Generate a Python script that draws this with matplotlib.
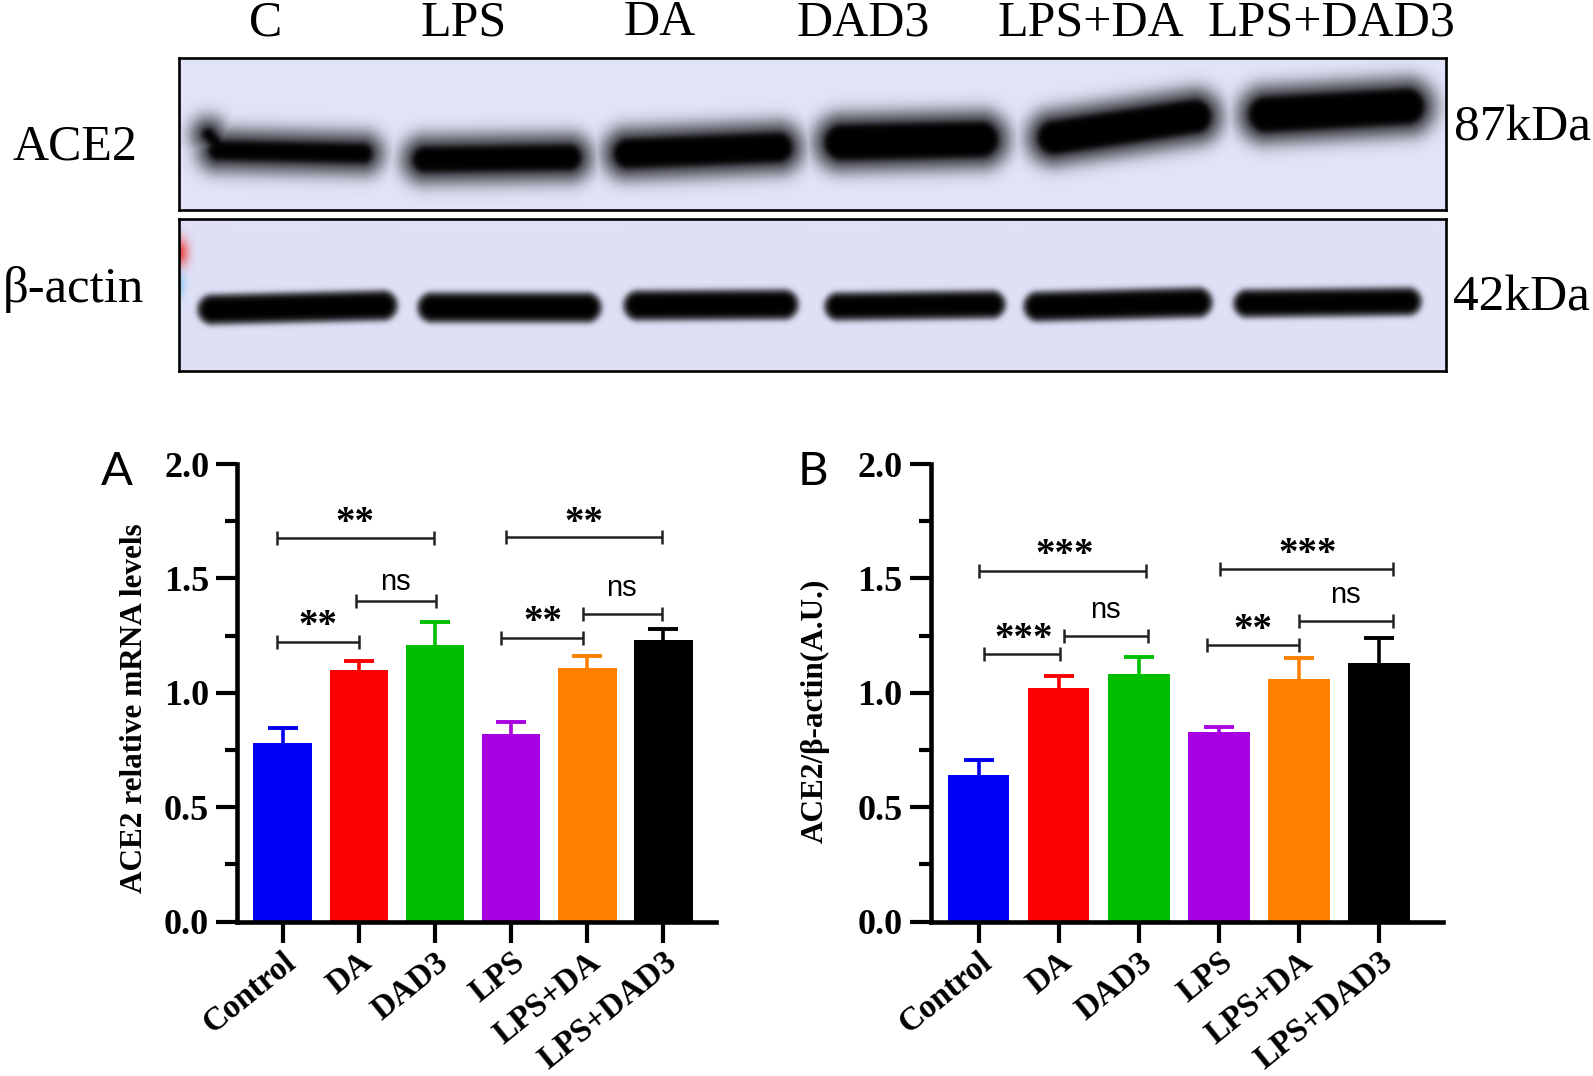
import numpy as np
import matplotlib
matplotlib.use('Agg')
import matplotlib.pyplot as plt

W, H = 1593, 1076
SERIF = 'Liberation Serif'

# bar chart data
groups = ['Control', 'DA', 'DAD3', 'LPS', 'LPS+DA', 'LPS+DAD3']
colors = ['#0000f5', '#fb0000', '#00bf00', '#a800e0', '#ff8000', '#000000']
mrna_mean = [0.78, 1.10, 1.21, 0.82, 1.11, 1.23]
mrna_err = [0.065, 0.04, 0.10, 0.05, 0.05, 0.05]
prot_mean = [0.64, 1.02, 1.08, 0.83, 1.06, 1.13]
prot_err = [0.065, 0.055, 0.075, 0.02, 0.09, 0.11]

# significance brackets: x start, x end, height, label x, label height, label
mrna_sig = [(-0.08, 1.99, 1.675, 0.95, 1.778, '**'),
            (-0.08, 1.00, 1.223, 0.46, 1.328, '**'),
            (0.96, 2.01, 1.40, 1.48, 1.495, 'ns'),
            (2.93, 4.98, 1.68, 3.96, 1.782, '**'),
            (2.87, 3.95, 1.24, 3.42, 1.347, '**'),
            (3.95, 4.98, 1.345, 4.45, 1.47, 'ns')]
prot_sig = [(0.00, 2.09, 1.534, 1.07, 1.642, '***'),
            (0.07, 1.015, 1.17, 0.56, 1.273, '***'),
            (1.07, 2.11, 1.246, 1.59, 1.374, 'ns'),
            (3.01, 5.17, 1.539, 4.11, 1.645, '***'),
            (2.85, 4.00, 1.207, 3.43, 1.314, '**'),
            (4.00, 5.17, 1.314, 4.58, 1.44, 'ns')]

# blot lanes and bands: x0, x1, y0, y1, radius (pixels of the scan)
lane_labels = ['C', 'LPS', 'DA', 'DAD3', 'LPS+DA', 'LPS+DAD3']
lane_label_x = [266, 464, 660, 863, 1091, 1331]
ace2_bands = [(218, 362, 150, 153, 10), (208, 222, 134, 150, 6),
              (425, 568, 159, 157, 13), (628, 777, 153, 147, 15),
              (842, 980, 142, 139, 18), (1054, 1194, 137, 116, 17),
              (1266, 1406, 114, 106, 18)]
actin_bands = [(212, 382, 309, 305, 13), (432, 586, 307, 307, 13),
               (638, 783, 305, 304, 13), (838, 991, 306, 304, 12),
               (1038, 1197, 306, 302, 13), (1247, 1407, 303, 301, 12)]


def axes_px(left, top, right, bottom):
    return fig.add_axes([left / W, 1 - bottom / H, (right - left) / W, (bottom - top) / H])


def blot(left, top, right, bottom, bands, halo, halo_size, bg):
    xx, yy = np.meshgrid(np.arange(left, right), np.arange(top, bottom))
    dark = np.zeros_like(xx, dtype=float)
    for x0, x1, y0, y1, r in bands:
        # distance to the band's centre segment
        dx, dy = x1 - x0, y1 - y0
        t = np.clip(((xx - x0) * dx + (yy - y0) * dy) / (dx * dx + dy * dy), 0, 1)
        d = np.hypot(xx - x0 - t * dx, yy - y0 - t * dy)
        core = 1 / (1 + np.exp((d - r) / 1.8))
        glow = halo * np.exp(-(np.clip(d - r, 0, None) / halo_size) ** 2)
        dark = np.maximum(dark, 1 - (1 - core) * (1 - glow))
    return np.array(bg) / 255 * (1 - dark[..., None])


fig = plt.figure(figsize=(W / 100, H / 100), dpi=100, facecolor='white')

# upper blot
ax = axes_px(179, 58, 1446, 210)
ax.imshow(blot(179, 58, 1446, 210, ace2_bands, 0.6, 15, (226, 229, 249)), aspect='auto',
          extent=(179, 1446, 210, 58))
ax.set_xticks([])
ax.set_yticks([])
for s in ax.spines.values():
    s.set_linewidth(1.9)

# lower blot, with the ladder smear on its left edge
ax = axes_px(179, 219, 1446, 371)
img = blot(179, 219, 1446, 371, actin_bands, 0.3, 4, (223, 225, 247))
yy, xx = np.mgrid[0:img.shape[0], 0:img.shape[1]]
red = np.exp(-(xx / 9.0) ** 2 - ((yy - 33) / 14.0) ** 2)[..., None]
blue = np.exp(-(xx / 6.0) ** 2 - ((yy - 65) / 13.0) ** 2)[..., None]
img = img * (1 - red) + np.array([0.93, 0.30, 0.30]) * red
img = img * (1 - blue) + np.array([0.60, 0.80, 0.95]) * blue
ax.imshow(img, aspect='auto', extent=(179, 1446, 371, 219), interpolation='bilinear')
ax.set_xticks([])
ax.set_yticks([])
for s in ax.spines.values():
    s.set_linewidth(1.9)

for name, x in zip(lane_labels, lane_label_x):
    fig.text(x / W, 1 - 23 / H, name, family=SERIF, fontsize=36, ha='center', va='center')
fig.text(75 / W, 1 - 147 / H, 'ACE2', family=SERIF, fontsize=36, ha='center', va='center')
fig.text(73 / W, 1 - 290 / H, 'β-actin', family=SERIF, fontsize=36.5, ha='center', va='center')
fig.text(1522 / W, 1 - 128 / H, '87kDa', family=SERIF, fontsize=37, ha='center', va='center')
fig.text(1521 / W, 1 - 298 / H, '42kDa', family=SERIF, fontsize=37, ha='center', va='center')


def bar_panel(box, xlim, mean, err, sig, width, ylabel, ylabel_x, ylabel_y, letter, letter_x):
    ax = axes_px(*box)
    x = np.arange(len(groups))
    ax.bar(x, mean, width=width, color=colors, linewidth=0, zorder=2)
    top = np.array(mean) + np.array(err)
    ax.vlines(x, mean, top, colors=colors, lw=2.6, zorder=1)
    for i in x:
        ax.plot(i, top[i], marker='_', ms=21, mew=2.8, color=colors[i], zorder=1)
    for x0, x1, y, tx, ty, label in sig:
        ax.plot([x0, x1], [y, y], color='#222222', lw=1.8, marker='|', ms=10, mew=1.8,
                solid_capstyle='butt')
        if label == 'ns':
            ax.text(tx, ty - 0.012, label, family='Liberation Sans', fontsize=21, ha='center', va='center')
        else:
            ax.text(tx, ty - 0.04, label, family=SERIF, weight='bold', fontsize=28,
                    ha='center', va='center')
    ax.set_xlim(*xlim)
    ax.set_ylim(0, 2)
    ax.set_yticks([0, 0.5, 1.0, 1.5, 2.0], ['0.0', '0.5', '1.0', '1.5', '2.0'],
                  family=SERIF, weight='bold', fontsize=26)
    ax.set_yticks([0.25, 0.75, 1.25, 1.75], minor=True)
    ax.set_xticks(x, groups, family=SERIF, weight='bold', fontsize=23.8, rotation=39,
                  ha='right', rotation_mode='anchor')
    ax.tick_params(axis='y', which='major', length=15, width=3, pad=5)
    ax.tick_params(axis='y', which='minor', length=8.5, width=3)
    ax.tick_params(axis='x', length=15, width=3, pad=3)
    for s in ['top', 'right']:
        ax.spines[s].set_visible(False)
    for s in ['left', 'bottom']:
        ax.spines[s].set_linewidth(3.3)
    fig.text(ylabel_x / W, 1 - ylabel_y / H, ylabel, family=SERIF, weight='bold',
             fontsize=22.5, rotation=90, ha='center', va='center')
    fig.text(letter_x / W, 1 - 472 / H, letter, family='Lato', fontsize=34, ha='center', va='center')
    return ax


bar_panel((237, 464, 716, 921.5), (-0.6, 5.69), mrna_mean, mrna_err, mrna_sig, 0.77,
          'ACE2 relative mRNA levels', 134, 708, 'A', 117)
bar_panel((930.5, 464, 1443, 921.5), (-0.6, 5.8), prot_mean, prot_err, prot_sig, 0.77,
          'ACE2/β-actin(A.U.)', 815, 711, 'B', 813)

fig.savefig('out.png', dpi=100)
